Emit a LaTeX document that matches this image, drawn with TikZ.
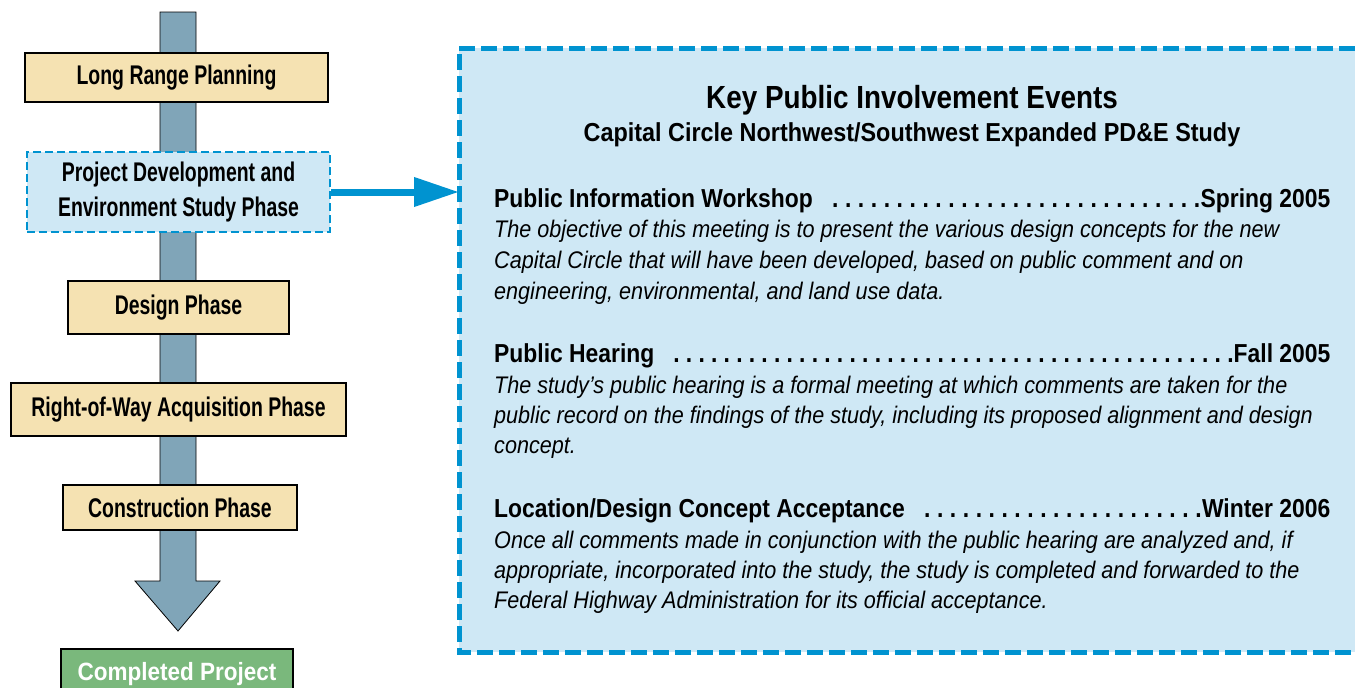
\documentclass[tikz,border=0pt]{standalone}
\usepackage{fontspec}
\setmainfont{Liberation Sans}
\newfontfamily\condb{Liberation Sans}[FakeStretch=0.72]
\newfontfamily\headb{Liberation Sans}[FakeStretch=0.88]
\newfontfamily\titleb{Liberation Sans}[FakeStretch=0.87]
\newfontfamily\subb{Liberation Sans}[FakeStretch=0.9]
\newfontfamily\doneb{Liberation Sans}[FakeStretch=0.9]
\newfontfamily\condi{Liberation Sans}[FakeStretch=0.9]
\usetikzlibrary{arrows.meta}
\definecolor{shaft}{HTML}{80A5B8}
\definecolor{beige}{HTML}{F5E2B2}
\definecolor{pale}{HTML}{CFE8F5}
\definecolor{dashblue}{HTML}{0093D0}
\definecolor{done}{HTML}{7AB87C}
\tikzset{
  phase/.style={draw=black, line width=2.5pt, fill=beige, inner sep=0pt,
    font=\condb\bfseries\fontsize{27}{30}\selectfont},
  current/.style={draw=dashblue, line width=2.5pt, dash pattern=on 8pt off 4pt,
    fill=pale, inner sep=0pt, align=center,
    font=\condb\bfseries\fontsize{27}{35}\selectfont},
  finalbox/.style={draw=black, line width=2.5pt, fill=done, inner sep=0pt,
    text=white, font=\doneb\bfseries\fontsize{25}{28}\selectfont},
  headline/.style={anchor=base west, inner sep=0pt,
    font=\headb\bfseries\fontsize{26}{30}\selectfont},
  bodyline/.style={anchor=base west, inner sep=0pt,
    font=\condi\itshape\fontsize{24}{28}\selectfont},
  panelborder/.style={draw=dashblue, line width=5pt, dash pattern=on 16pt off 6pt},
}
\newcommand{\dotlead}{\xleaders\hbox to 12.5pt{\hss.}\hfill}
\begin{document}
\begin{tikzpicture}[x=1pt,y=-1pt]
\useasboundingbox (0,0) rectangle (1355,688);
\clip (0,0) rectangle (1355,688);
% events panel (open on the right: it runs past the page edge)
\coordinate (pnw) at (459,48);
\coordinate (psw) at (459,652);
\coordinate (pne) at (1355,48);
\coordinate (pse) at (1355,652);
\fill[pale] (pnw) rectangle (pse);
\draw[panelborder] (pne) -- (pnw) -- (psw) -- (pse);
\node[inner sep=0pt, minimum width=0pt, minimum height=604pt, anchor=north west] (events) at (pnw) {};
% main shaft arrow
\draw[fill=shaft, draw=black, line width=0.8pt]
  (160,12) -- (160,581) -- (135,581) -- (178,631) -- (220,581) -- (196,581) -- (196,12) -- cycle;
% phases
\node[phase, minimum width=303pt, minimum height=49pt] (lrp) at (176.5,77.5) {Long Range Planning};
\node[current, minimum width=303pt, minimum height=80pt] (pde) at (178.5,192) {Project Development and\\Environment Study Phase};
\node[phase, minimum width=221pt, minimum height=53pt] (design) at (178.5,307.5) {Design Phase};
\node[phase, minimum width=335pt, minimum height=53pt] (row) at (178.5,409.5) {Right-of-Way Acquisition Phase};
\node[phase, minimum width=234pt, minimum height=45pt] (constr) at (180,507.5) {Construction Phase};
\node[finalbox, minimum width=232pt, minimum height=52pt, text depth=8pt] (complete) at (177,675) {Completed Project};
% connector
\draw[dashblue, line width=7pt, -{Triangle[length=45pt,width=28pt]}]
  (pde.east) -- (pde.east -| events.west);
% panel texts
\node[inner sep=0pt, anchor=base, font=\titleb\bfseries\fontsize{32}{36}\selectfont]
  (title) at (912,108) {Key Public Involvement Events};
\node[inner sep=0pt, anchor=base, font=\subb\bfseries\fontsize{26}{30}\selectfont]
  (subtitle) at (912,141) {Capital Circle Northwest/Southwest Expanded PD\&E Study};
\node[headline] (h1) at (494,207) {\hbox to 836pt{Public Information Workshop\ \ \dotlead Spring 2005}};
\node[bodyline] (b1a) at (494,237) {The objective of this meeting is to present the various design concepts for the new};
\node[bodyline] (b1b) at (494,268) {Capital Circle that will have been developed, based on public comment and on};
\node[bodyline] (b1c) at (494,299) {engineering, environmental, and land use data.};
\node[headline] (h2) at (494,362) {\hbox to 836pt{Public Hearing\ \ \dotlead Fall 2005}};
\node[bodyline] (b2a) at (494,393) {The study’s public hearing is a formal meeting at which comments are taken for the};
\node[bodyline] (b2b) at (494,423) {public record on the findings of the study, including its proposed alignment and design};
\node[bodyline] (b2c) at (494,453) {concept.};
\node[headline] (h3) at (494,517) {\hbox to 836pt{Location/Design Concept Acceptance\ \ \dotlead Winter 2006}};
\node[bodyline] (b3a) at (494,548) {Once all comments made in conjunction with the public hearing are analyzed and, if};
\node[bodyline] (b3b) at (494,578) {appropriate, incorporated into the study, the study is completed and forwarded to the};
\node[bodyline] (b3c) at (494,608) {Federal Highway Administration for its official acceptance.};
\end{tikzpicture}
\end{document}
